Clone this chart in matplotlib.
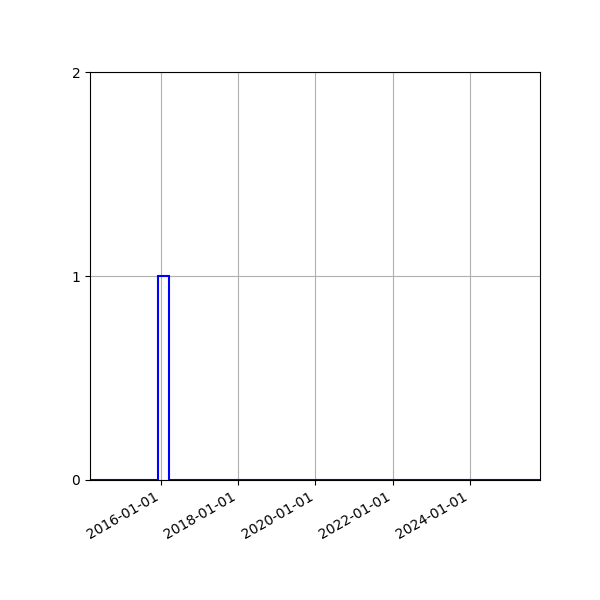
import matplotlib
matplotlib.use("Agg")
import matplotlib.pyplot as plt
import matplotlib.dates as mdates
import numpy as np
import datetime as dt

# Data
event_dates = ["2016-01-15"]
range_start = "2014-03-01"
range_end = "2025-10-25"
n_bins = 40
tick_dates = ["2016-01-01", "2018-01-01", "2020-01-01", "2022-01-01", "2024-01-01"]
y_ticks = [0, 1, 2]

to_num = lambda s: mdates.date2num(dt.datetime.strptime(s, "%Y-%m-%d"))

fig, ax = plt.subplots(figsize=(6, 6), dpi=100)
x = [to_num(d) for d in event_dates]
lo, hi = to_num(range_start), to_num(range_end)
ax.hist(x, bins=n_bins, range=(lo, hi), histtype="step", color="blue", linewidth=1.5)
ax.set_xlim(lo, hi)
ax.set_ylim(0, 2)
ax.set_yticks(y_ticks)
ax.set_xticks([to_num(d) for d in tick_dates])
ax.xaxis.set_major_formatter(mdates.DateFormatter("%Y-%m-%d"))
ax.grid(True)
fig.autofmt_xdate()
fig.subplots_adjust(left=0.15, right=0.9, top=0.88, bottom=0.2)
fig.savefig("out.png", dpi=100)
